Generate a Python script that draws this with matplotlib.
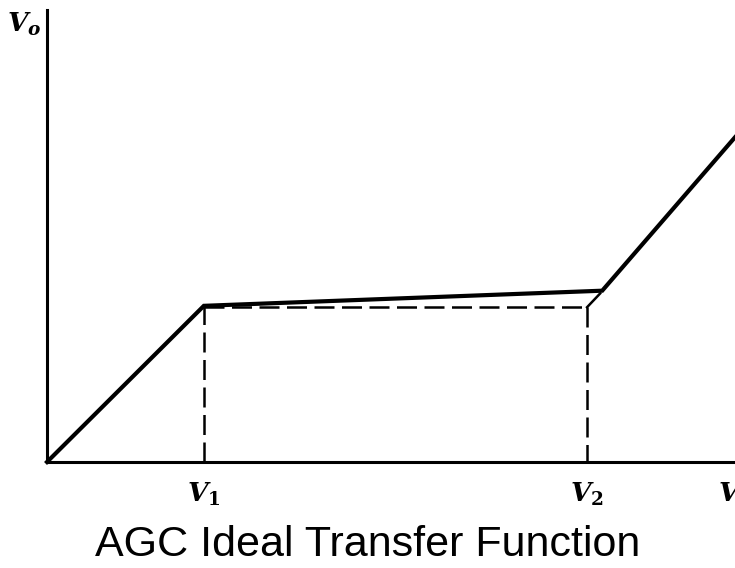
import matplotlib
matplotlib.use("Agg")
import matplotlib.pyplot as plt

plt.rcParams["mathtext.fontset"] = "custom"
plt.rcParams["mathtext.it"] = "DejaVu Serif:italic:bold"
plt.rcParams["mathtext.rm"] = "DejaVu Serif:bold"
plt.rcParams["mathtext.bf"] = "DejaVu Serif:bold"

# transfer curve (arbitrary units)
vin = [0.0, 2.28, 8.07, 10.0]
vout = [0.0, 2.27, 2.49, 4.72]

# dashed guide lines
v1 = 2.28
v2 = 7.85
v_flat = 2.25
knee_x = 8.04
knee_y = 2.45

tick_pos = [v1, v2]
tick_labels = ["$V_1$", "$V_2$"]
title = "AGC Ideal Transfer Function"

fig = plt.figure(figsize=(7.35, 5.68), dpi=100)
ax = fig.add_axes([47 / 735, 106 / 568, 688 / 735, 452 / 568])
ax.set_xlim(0, 10)
ax.set_ylim(0, 6.57)

for s in ["top", "right"]:
    ax.spines[s].set_visible(False)
for s in ["left", "bottom"]:
    ax.spines[s].set_linewidth(2.2)
ax.set_xticks([])
ax.set_yticks([])

ax.plot([v1, v1], [0, v_flat], color="black", lw=1.8, dashes=(8, 3))
ax.plot([v1, v2], [v_flat, v_flat], color="black", lw=1.8, dashes=(8, 3))
ax.plot([v2, v2], [v_flat, 0], color="black", lw=1.8, dashes=(8, 3))
ax.plot([v2, knee_x], [v_flat, knee_y], color="black", lw=1.8)

ax.plot(vin, vout, color="black", lw=3, solid_joinstyle="miter", clip_on=False)

for p, t in zip(tick_pos, tick_labels):
    ax.text(p, -0.28, t, ha="center", va="top", fontsize=19)
ax.text(9.75, -0.28, "$V_i$", ha="left", va="top", fontsize=19)
fig.text(24 / 735, 1 - 24 / 568, "$V_o$", ha="center", va="center", fontsize=19)

fig.text(0.5, 1 - 545 / 568, title, ha="center", va="center",
         family="Liberation Sans", fontsize=31)

fig.savefig("out.png", dpi=100)
